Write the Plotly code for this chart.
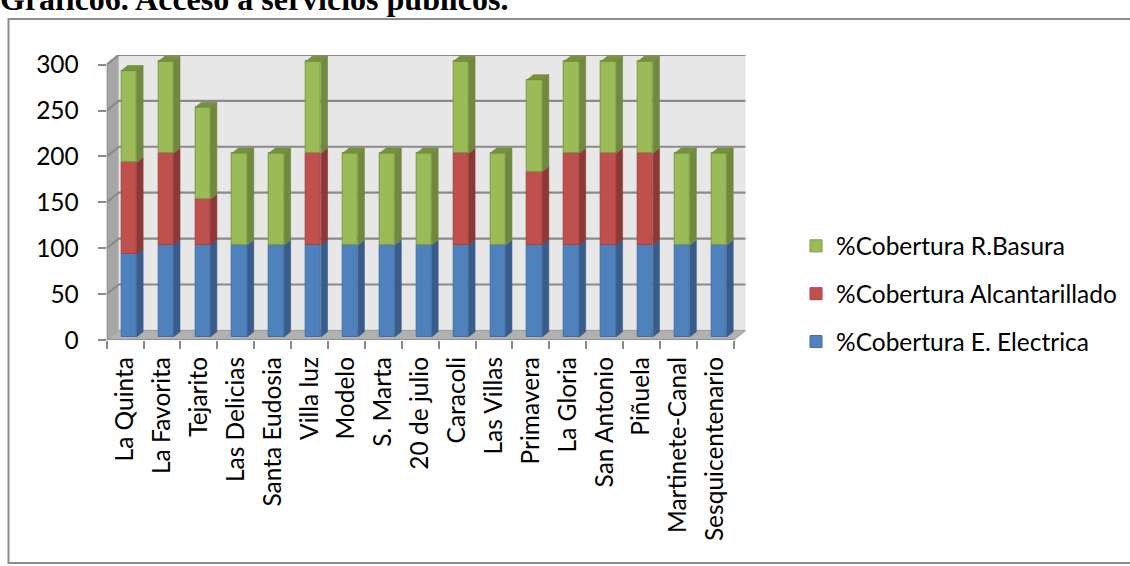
import plotly.graph_objects as go

# ---- data -------------------------------------------------------------
barrios = ["La Quinta", "La Favorita", "Tejarito", "Las Delicias", "Santa Eudosia",
           "Villa luz", "Modelo", "S. Marta", "20 de julio", "Caracoli", "Las Villas",
           "Primavera", "La Gloria", "San Antonio", "Piñuela", "Martinete-Canal",
           "Sesquicentenario"]
electrica = [90, 100, 100, 100, 100, 100, 100, 100, 100, 100, 100, 100, 100, 100, 100, 100, 100]
alcantarillado = [100, 100, 50, 0, 0, 100, 0, 0, 0, 100, 0, 80, 100, 100, 100, 0, 0]
basura = [100, 100, 100, 100, 100, 100, 100, 100, 100, 100, 100, 100, 100, 100, 100, 100, 100]
y_ticks = [0, 50, 100, 150, 200, 250, 300]

series = [
    ("%Cobertura E. Electrica", electrica, "#4F81BD", "#385D8A", "#3F6EA8"),
    ("%Cobertura Alcantarillado", alcantarillado, "#C0504D", "#8C3836", "#A8423F"),
    ("%Cobertura R.Basura", basura, "#9BBB59", "#71893F", "#7A9A43"),
]

# ---- layout geometry (pixels) ------------------------------------------
W, H = 1130, 566
X_FRONT_LEFT, X_FRONT_RIGHT = 106.7, 733.7
Y_ZERO, PX_PER_UNIT = 346.7, 0.95
DEPTH_X, DEPTH_Y = 12.0, 10.0           # wall depth offset in px
n = len(barrios)
cat_px = (X_FRONT_RIGHT - X_FRONT_LEFT) / n
y_max = max(y_ticks)

dxu = DEPTH_X / cat_px                   # depth offset in category units
dvu = DEPTH_Y / PX_PER_UNIT              # depth offset in value units

x_range = [-0.5, n - 0.5 + dxu]
y_range = [0, y_max + dvu]
x_dom = [X_FRONT_LEFT / W, (X_FRONT_RIGHT + DEPTH_X) / W]
y_top_px = Y_ZERO - PX_PER_UNIT * (y_max + dvu)
y_dom = [(H - Y_ZERO) / H, (H - y_top_px) / H]

# bar placement inside the depth of the plot
front_depth = 0.33
bar_depth = 0.53
bar_w = 0.415
bx_shift = front_depth * dxu
bv_shift = front_depth * dvu
sdx = bar_depth * dxu
sdv = bar_depth * dvu

fig = go.Figure()

# stacked columns (front faces) with explicit bases;
# legendrank puts the top segment first in the legend
bottoms = [bv_shift] * n
tops_by_series = []
for k, (name, vals, front, side, edge) in enumerate(series):
    xs = [i + bx_shift for i in range(n)]
    fig.add_trace(go.Bar(
        x=xs, y=vals, base=bottoms[:], width=bar_w, name=name,
        marker=dict(color=front, line=dict(color=edge, width=1)),
        legendgroup=name, legendrank=len(series) - k, hoverinfo="skip",
    ))
    tops_by_series.append((bottoms[:], [b + v for b, v in zip(bottoms, vals)]))
    bottoms = [b + v for b, v in zip(bottoms, vals)]

# side faces of the columns
for (name, vals, front, side, edge), (lo_l, hi_l) in zip(series, tops_by_series):
    px, py = [], []
    for i in range(n):
        if vals[i] <= 0:
            continue
        xr = i + bx_shift + bar_w / 2
        lo, hi = lo_l[i], hi_l[i]
        px += [xr, xr + sdx, xr + sdx, xr, xr, None]
        py += [lo, lo + sdv, hi + sdv, hi, lo, None]
    fig.add_trace(go.Scatter(x=px, y=py, mode="lines", fill="toself",
                             fillcolor=side, line=dict(color=side, width=0.6),
                             showlegend=False, hoverinfo="skip"))

# top faces on the highest segment of each column
tx, ty = [], []
for i in range(n):
    hi = bottoms[i]
    xl = i + bx_shift - bar_w / 2
    xr = i + bx_shift + bar_w / 2
    tx += [xl, xl + sdx, xr + sdx, xr, xl, None]
    ty += [hi, hi + sdv, hi + sdv, hi, hi, None]
fig.add_trace(go.Scatter(x=tx, y=ty, mode="lines", fill="toself",
                         fillcolor="#76933C", line=dict(color="#6A8535", width=0.6),
                         showlegend=False, hoverinfo="skip"))

# ---- walls, floor and gridlines ----------------------------------------
x0, x1 = -0.5, n - 0.5
shapes = [
    dict(type="rect", xref="x", yref="y", x0=x0 + dxu, x1=x1 + dxu, y0=dvu, y1=y_max + dvu,
         fillcolor="#E7E7E7", line=dict(width=0), layer="below"),
    dict(type="path", xref="x", yref="y",
         path=f"M{x0},0 L{x0 + dxu},{dvu} L{x0 + dxu},{y_max + dvu} L{x0},{y_max} Z",
         fillcolor="#A6A6A6", line=dict(width=0), layer="below"),
    dict(type="path", xref="x", yref="y",
         path=f"M{x0},0 L{x1},0 L{x1 + dxu},{dvu} L{x0 + dxu},{dvu} Z",
         fillcolor="#B1B1B1", line=dict(color="#9A9A9A", width=1), layer="below"),
]
for v in y_ticks[1:]:
    shapes.append(dict(type="path", xref="x", yref="y",
                       path=f"M{x0},{v} L{x0 + dxu},{v + dvu} L{x1 + dxu},{v + dvu}",
                       line=dict(color="#8A8A8A", width=2.2), layer="below"))
# front axis edges
shapes.append(dict(type="line", xref="x", yref="y", x0=x0, x1=x0, y0=0, y1=y_max,
                   line=dict(color="#8A8A8A", width=1.5), layer="below"))
shapes.append(dict(type="line", xref="x", yref="y", x0=x0, x1=x1, y0=0, y1=0,
                   line=dict(color="#8A8A8A", width=1.5), layer="below"))
# chart frame
shapes.append(dict(type="rect", xref="paper", yref="paper",
                   x0=8.5 / W, x1=1.02, y0=-0.02, y1=1 - 14.5 / H,
                   line=dict(color="#8C8C8C", width=2), fillcolor="rgba(0,0,0,0)",
                   layer="below"))

tick_font = dict(family="Lato", size=24.5, color="#000000")

fig.update_layout(
    width=W, height=H,
    margin=dict(l=0, r=0, t=0, b=0),
    paper_bgcolor="white", plot_bgcolor="rgba(0,0,0,0)",
    barmode="overlay", bargap=0,
    shapes=shapes,
    showlegend=True,
    legend=dict(x=796 / W, xanchor="left", y=1 - 226 / H, yanchor="top",
                traceorder="grouped", tracegroupgap=13,
                font=dict(family="Lato", size=24.5, color="#000000"),
                bgcolor="rgba(0,0,0,0)"),
    xaxis=dict(domain=x_dom, range=x_range, tickmode="array",
               tickvals=list(range(n)), ticktext=barrios, tickangle=-90,
               ticks="", showgrid=False, zeroline=False, showline=False,
               tickfont=tick_font, ticklabelstandoff=11,
               minor=dict(tickmode="array", tickvals=[i - 0.5 for i in range(n + 1)],
                          ticks="outside", ticklen=8, tickcolor="#8A8A8A", tickwidth=1.5,
                          showgrid=False),
               fixedrange=True),
    yaxis=dict(domain=y_dom, range=y_range, tickmode="array", tickvals=y_ticks,
               ticks="outside", ticklen=8, tickcolor="#8A8A8A", tickwidth=1.5,
               showgrid=False, zeroline=False, showline=False,
               tickfont=tick_font, ticklabelstandoff=14, fixedrange=True),
    annotations=[dict(text="<b>Grafico6. Acceso a servicios públicos.</b>",
                      xref="paper", yref="paper", x=-2 / W, y=1 - 15 / H,
                      xanchor="left", yanchor="bottom", showarrow=False,
                      font=dict(family="Liberation Serif", size=32, color="#000000"))],
)

fig.write_html("out.html")
